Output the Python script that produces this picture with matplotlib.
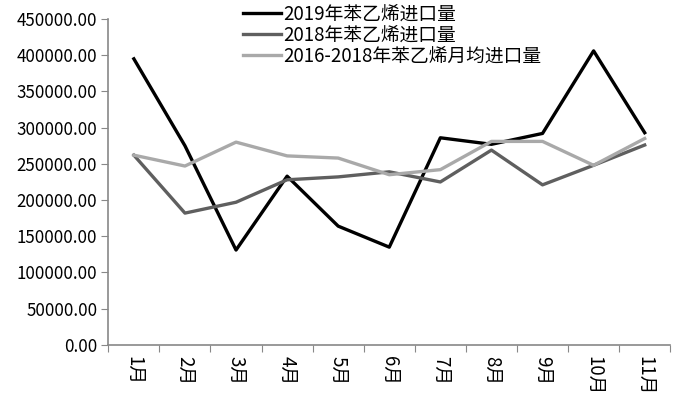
import numpy as np
from matplotlib import pyplot as plt

plt.rcParams['font.family'] = ['Noto Sans CJK SC', 'DejaVu Sans']

meses = ['1月', '2月', '3月', '4月', '5月', '6月', '7月', '8月', '9月', '10月', '11月']
import_2019 = [395000, 275000, 131000, 233000, 164000, 135000, 286000, 277000, 292000, 406000, 293000]
import_2018 = [262000, 182000, 197000, 228000, 232000, 239000, 225000, 269000, 221000, 248000, 276000]
media_16_18 = [262000, 247000, 280000, 261000, 258000, 235000, 242000, 281000, 281000, 248000, 285000]
etiquetas = ['2019年苯乙烯进口量', '2018年苯乙烯进口量', '2016-2018年苯乙烯月均进口量']

fig = plt.figure(figsize=(6.77, 3.96), dpi=100)
ax = fig.add_axes([0.16, 0.129, 0.83, 0.823])

x = np.arange(len(meses))
ax.plot(x, import_2019, color='#000000', lw=2.4, label=etiquetas[0])
ax.plot(x, import_2018, color='#5f5f5f', lw=2.4, label=etiquetas[1])
ax.plot(x, media_16_18, color='#a9a9a9', lw=2.4, label=etiquetas[2])

ax.set_xlim(-0.5, len(meses) - 0.5)
ax.set_ylim(0, 450000)
ax.set_yticks(np.arange(0, 450001, 50000))
ax.set_yticklabels([f'{v:.2f}' for v in np.arange(0, 450001, 50000)], fontsize=12.2)

# ticks en los bordes, etiquetas en el centro (como excel)
ax.set_xticks(np.arange(-0.5, len(meses)))
ax.set_xticklabels([])
ax.set_xticks(x, minor=True)
ax.set_xticklabels(meses, minor=True, rotation=270, fontsize=13.5)
ax.tick_params(axis='x', which='major', length=5, color='#888888')
ax.tick_params(axis='x', which='minor', length=0, pad=8)
ax.tick_params(axis='y', length=5, color='#888888', pad=3)

for s in ['top', 'right']:
    ax.spines[s].set_visible(False)
for s in ['left', 'bottom']:
    ax.spines[s].set_color('#888888')
    ax.spines[s].set_linewidth(1.2)

ax.legend(loc='upper center', bbox_to_anchor=(0.505, 1.07), frameon=False, fontsize=13.5,
          handlelength=2.0, handletextpad=0.1, labelspacing=0.0, borderaxespad=0)

fig.savefig('out.png', dpi=100)
